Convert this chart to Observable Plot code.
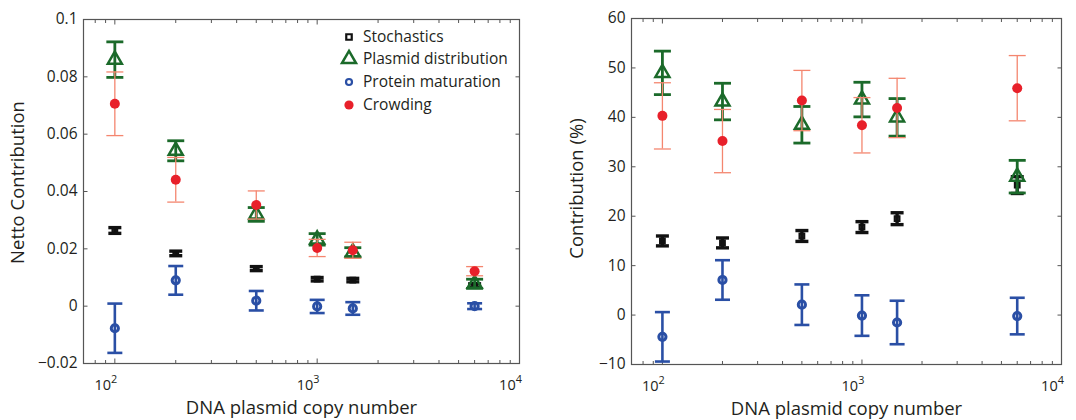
<!DOCTYPE html>
<html>
<head>
<meta charset="utf-8">
<script src="https://cdn.jsdelivr.net/npm/d3@7"></script>
<script src="https://cdn.jsdelivr.net/npm/@observablehq/plot@0.6"></script>
<style>
  html, body { margin: 0; padding: 0; background: #fff; }
  #wrap { position: relative; width: 1076px; height: 420px; display: flex; font-family: "Open Sans", sans-serif; }
  #wrap svg { display: block; }
  #legend { position: absolute; left: 0; top: 0; }
</style>
</head>
<body>
<div id="wrap">
  <div id="left"></div>
  <div id="right"></div>
</div>
<script>
// ---- data ----
const copyNumbers = [100, 200, 500, 1000, 1500, 6000];
const seriesNames = ["Stochastics", "Plasmid distribution", "Protein maturation", "Crowding"];

// Left panel: netto contribution (value, half error bar)
const nettoStochastics    = [0.0264, 0.0184, 0.0131, 0.0094, 0.0091, 0.0072];
const nettoStochasticsErr = [0.0010, 0.0008, 0.0007, 0.0006, 0.0006, 0.0006];
const nettoPlasmid        = [0.0860, 0.0542, 0.0320, 0.0233, 0.0188, 0.0078];
const nettoPlasmidErr     = [0.0062, 0.0035, 0.0024, 0.0020, 0.0016, 0.0016];
const nettoProtein        = [-0.0077, 0.0090, 0.0019, -0.0001, -0.0008, 0.0000];
const nettoProteinErr     = [0.0086, 0.0050, 0.0034, 0.0023, 0.0022, 0.0010];
const nettoCrowding       = [0.0706, 0.0441, 0.0353, 0.0203, 0.0195, 0.0122];
const nettoCrowdingErr    = [0.0111, 0.0078, 0.0049, 0.0030, 0.0028, 0.0016];

// Right panel: contribution in percent (value, half error bar)
const pctStochastics    = [15.0, 14.6, 16.0, 17.8, 19.5, 26.3];
const pctStochasticsErr = [1.0, 1.0, 1.1, 1.1, 1.2, 1.7];
const pctPlasmid        = [49.0, 43.2, 38.5, 43.6, 40.0, 28.0];
const pctPlasmidErr     = [4.4, 3.7, 3.7, 3.5, 3.8, 3.3];
const pctProtein        = [-4.4, 7.1, 2.1, -0.1, -1.5, -0.2];
const pctProteinErr     = [5.0, 4.0, 4.1, 4.1, 4.4, 3.7];
const pctCrowding       = [40.3, 35.2, 43.4, 38.4, 41.9, 45.9];
const pctCrowdingErr    = [6.7, 6.4, 6.1, 5.6, 6.0, 6.6];

const xMajorTicks = [100, 1000, 10000];
const xMinorTicks = [70, 80, 90, 200, 300, 400, 500, 600, 700, 800, 900, 2000, 3000, 4000, 5000, 6000, 7000, 8000, 9000];
const nettoTicks = [-0.02, 0, 0.02, 0.04, 0.06, 0.08, 0.1];
const pctTicks = [-10, 0, 10, 20, 30, 40, 50, 60];

// ---- styles ----
const TEXT = "#231f20";
const FRAME = "#555";
const styles = {
  "Stochastics":          {color: "#111111", bar: "#111111", barW: 3.4, capR: 6.5, symbol: "square",   r: 2.6, sw: 2.2, fill: "none"},
  "Plasmid distribution": {color: "#1b6a2a", bar: "#1b6a2a", barW: 2.8, capR: 8.5, symbol: "triangle", r: 5.2, sw: 2.5, fill: "none"},
  "Protein maturation":   {color: "#2a4fa5", bar: "#2a4fa5", barW: 2.6, capR: 7.5, symbol: "circle",   r: 3.6, sw: 3,   fill: "none"},
  "Crowding":             {color: "#e8202a", bar: "#f4866f", barW: 1.3, capR: 8.5, symbol: "circle",   r: 5,   sw: 0,   fill: "#e8202a"}
};

const capSymbol = {
  draw(ctx, size) { const h = Math.sqrt(size / Math.PI); ctx.moveTo(-h, 0); ctx.lineTo(h, 0); }
};

function rows(vals, errs) {
  return copyNumbers.map((x, i) => ({x, y: vals[i], lo: vals[i] - errs[i], hi: vals[i] + errs[i]}));
}

function seriesMarks(name, data) {
  const s = styles[name];
  return [
    Plot.ruleX(data, {x: "x", y1: "lo", y2: "hi", stroke: s.bar, strokeWidth: s.barW}),
    Plot.dot(data, {x: "x", y: "hi", symbol: capSymbol, r: s.capR, stroke: s.bar, strokeWidth: s.barW, fill: "none"}),
    Plot.dot(data, {x: "x", y: "lo", symbol: capSymbol, r: s.capR, stroke: s.bar, strokeWidth: s.barW, fill: "none"}),
    Plot.dot(data, {x: "x", y: "y", symbol: s.symbol, r: s.r, stroke: s.sw ? s.color : "none", strokeWidth: s.sw, fill: s.fill})
  ];
}

function panel({width, margins, yDomain, yTicks, yLabel, yLabelOffset, yTickFormat, sets}) {
  const marks = [];
  sets.forEach(([name, data]) => marks.push(...seriesMarks(name, data)));
  return Plot.plot({
    width, height: 420,
    marginLeft: margins[0], marginRight: margins[1], marginTop: margins[2], marginBottom: margins[3],
    style: {fontFamily: "'Open Sans', sans-serif", color: TEXT, background: "#fff", overflow: "visible"},
    x: {type: "log", domain: [70, 10000]},
    y: {domain: yDomain},
    marks: [
      Plot.frame({stroke: FRAME, strokeWidth: 1.2}),
      // inward ticks on all four sides
      Plot.axisX(xMajorTicks, {anchor: "bottom", tickSize: -4.5, fill: "none", stroke: FRAME, label: null}),
      Plot.axisX(xMajorTicks, {anchor: "top", tickSize: -4.5, fill: "none", stroke: FRAME, label: null}),
      Plot.axisX(xMinorTicks, {anchor: "bottom", tickSize: -3, fill: "none", stroke: FRAME, label: null}),
      Plot.axisX(xMinorTicks, {anchor: "top", tickSize: -3, fill: "none", stroke: FRAME, label: null}),
      Plot.axisY(yTicks, {anchor: "left", tickSize: -4.5, fill: "none", stroke: FRAME, label: null}),
      Plot.axisY(yTicks, {anchor: "right", tickSize: -4.5, fill: "none", stroke: FRAME, label: null}),
      // labels
      Plot.axisX(xMajorTicks, {anchor: "bottom", tickSize: 0, tickPadding: 16, fontSize: 14.5, fill: TEXT, dx: -9,
        tickFormat: () => "10", label: "DNA plasmid copy number", labelAnchor: "center", labelOffset: 50}),
      Plot.axisY(yTicks, {anchor: "left", tickSize: 0, tickPadding: 6, fontSize: 15.5, fill: TEXT,
        tickFormat: yTickFormat, label: yLabel, labelAnchor: "center", labelOffset: yLabelOffset}),
      ...marks
    ]
  });
}

const fmtNetto = d => d < 0 ? "\u2212" + Math.abs(d) : String(d);
const fmtPct = d => d < 0 ? "\u2212" + Math.abs(d) : String(d);

const leftPlot = panel({
  width: 540, margins: [83, 21, 19, 57],
  yDomain: [-0.02, 0.1], yTicks: nettoTicks, yLabel: "Netto Contribution", yLabelOffset: 73, yTickFormat: fmtNetto,
  sets: [
    ["Stochastics", rows(nettoStochastics, nettoStochasticsErr)],
    ["Protein maturation", rows(nettoProtein, nettoProteinErr)],
    ["Plasmid distribution", rows(nettoPlasmid, nettoPlasmidErr)],
    ["Crowding", rows(nettoCrowding, nettoCrowdingErr)]
  ]
});
const rightPlot = panel({
  width: 536, margins: [91, 15, 18, 56],
  yDomain: [-10, 60], yTicks: pctTicks, yLabel: "Contribution (%)", yLabelOffset: 62, yTickFormat: fmtPct,
  sets: [
    ["Stochastics", rows(pctStochastics, pctStochasticsErr)],
    ["Protein maturation", rows(pctProtein, pctProteinErr)],
    ["Plasmid distribution", rows(pctPlasmid, pctPlasmidErr)],
    ["Crowding", rows(pctCrowding, pctCrowdingErr)]
  ]
});
document.getElementById("left").appendChild(leftPlot);
document.getElementById("right").appendChild(rightPlot);

// superscript exponents on the log-axis labels; drop label arrows
[[leftPlot, 9], [rightPlot, 3]].forEach(([svg, yShift]) => {
  svg.querySelectorAll('g[aria-label="x-axis tick label"] text').forEach((t, i) => {
    const exp = Math.round(Math.log10(xMajorTicks[i]));
    t.textContent = "10";
    const ts = document.createElementNS("http://www.w3.org/2000/svg", "tspan");
    ts.setAttribute("dy", "-0.6em");
    ts.setAttribute("font-size", "0.75em");
    ts.textContent = exp;
    t.appendChild(ts);
  });
  svg.querySelectorAll('g[aria-label="x-axis label"] text, g[aria-label="y-axis label"] text').forEach(t => {
    t.setAttribute("font-size", "18.5");
    t.textContent = t.textContent.replace(/\s*[\u2190-\u2193]\s*/g, "").trim();
  });
  svg.querySelectorAll('g[aria-label="y-axis label"] text').forEach(t => {
    t.setAttribute("x", yShift);
  });
});

// legend (inside the left panel, top right)
const legendRows = [
  {name: seriesNames[0], y: 37},
  {name: seriesNames[1], y: 59},
  {name: seriesNames[2], y: 82},
  {name: seriesNames[3], y: 105}
];
const ns = "http://www.w3.org/2000/svg";
const lg = document.createElementNS(ns, "svg");
lg.setAttribute("id", "legend");
lg.setAttribute("width", 1076);
lg.setAttribute("height", 420);
lg.style.pointerEvents = "none";
legendRows.forEach(row => {
  const s = styles[row.name];
  let symType = s.symbol === "square" ? d3.symbolSquare : s.symbol === "triangle" ? d3.symbolTriangle : d3.symbolCircle;
  let area, stroke = s.color, fill = "none", sw;
  if (row.name === "Stochastics") { area = 30; sw = 2.2; }
  else if (row.name === "Plasmid distribution") { area = Math.PI * 5.2 * 5.2; sw = 2.5; }
  else if (row.name === "Protein maturation") { area = Math.PI * 3 * 3; sw = 2.2; }
  else { area = Math.PI * 4.6 * 4.6; sw = 0; fill = s.color; stroke = "none"; }
  const p = document.createElementNS(ns, "path");
  p.setAttribute("d", d3.symbol(symType, area)());
  p.setAttribute("transform", `translate(349,${row.y})`);
  p.setAttribute("fill", fill);
  p.setAttribute("stroke", stroke);
  p.setAttribute("stroke-width", sw);
  lg.appendChild(p);
  const t = document.createElementNS(ns, "text");
  t.setAttribute("x", 363);
  t.setAttribute("y", row.y);
  t.setAttribute("dy", "0.35em");
  t.setAttribute("font-size", 15.5);
  t.setAttribute("font-family", "'Open Sans', sans-serif");
  t.setAttribute("fill", TEXT);
  t.textContent = row.name;
  lg.appendChild(t);
});
document.getElementById("wrap").appendChild(lg);
</script>
</body>
</html>
